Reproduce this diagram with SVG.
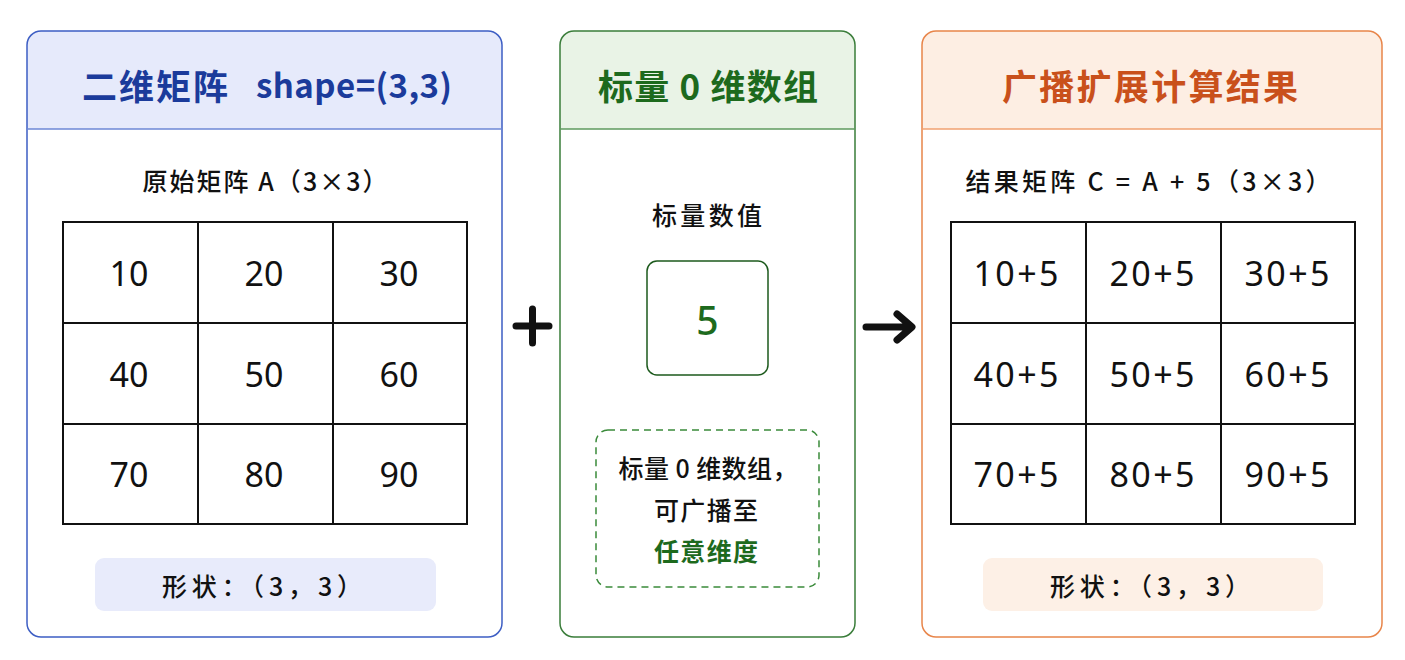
<svg xmlns="http://www.w3.org/2000/svg" width="1405" height="660" viewBox="0 0 1405 660">
<style>
text{font-family:"Noto Sans CJK SC","Noto Sans",sans-serif;text-anchor:middle;dominant-baseline:central}
.title{font-size:35px;font-weight:700}
.sub{font-size:25px;fill:#111;font-weight:500}
.num{font-size:34px;fill:#111;font-weight:400;font-family:"Noto Sans","Noto Sans CJK SC",sans-serif}
.cell{fill:#fff;stroke:#111;stroke-width:2}
.op{fill:none;stroke:#111;stroke-width:7;stroke-linecap:round;stroke-linejoin:round}
</style>
<rect width="1405" height="660" fill="#fff"/>
<g id="matrixA">
<path d="M41,31 H488 A14,14 0 0 1 502,45 V129 H27 V45 A14,14 0 0 1 41,31 Z" fill="#e6eafb"/>
<rect x="27" y="31" width="475" height="606" rx="14" fill="none" stroke="#3d5ec4" stroke-width="1.5"/>
<line x1="27" y1="129" x2="502" y2="129" stroke="#6d87d6" stroke-width="1.5"/>
<text class="title" x="155" y="84" fill="#1b3b9b" textLength="146" lengthAdjust="spacing">二维矩阵</text>
<text class="title" x="354" y="84" fill="#1b3b9b" style="font-size:33px" textLength="196" lengthAdjust="spacing">shape=(3,3)</text>
<text class="sub" x="265" y="180" textLength="245" lengthAdjust="spacing">原始矩阵 A（3×3）</text>
<rect class="cell" x="63" y="222" width="135" height="101"/>
<rect class="cell" x="198" y="222" width="135" height="101"/>
<rect class="cell" x="333" y="222" width="134" height="101"/>
<rect class="cell" x="63" y="323" width="135" height="101"/>
<rect class="cell" x="198" y="323" width="135" height="101"/>
<rect class="cell" x="333" y="323" width="134" height="101"/>
<rect class="cell" x="63" y="424" width="135" height="100"/>
<rect class="cell" x="198" y="424" width="135" height="100"/>
<rect class="cell" x="333" y="424" width="134" height="100"/>
<text class="num" x="129" y="273">10</text>
<text class="num" x="264" y="273">20</text>
<text class="num" x="399" y="273">30</text>
<text class="num" x="129" y="374">40</text>
<text class="num" x="264" y="374">50</text>
<text class="num" x="399" y="374">60</text>
<text class="num" x="129" y="474">70</text>
<text class="num" x="264" y="474">80</text>
<text class="num" x="399" y="474">90</text>
<rect x="95" y="558" width="341" height="53" rx="9" fill="#e8ebfb"/>
<text class="sub" x="262" y="585" textLength="200" lengthAdjust="spacing">形状：（3，3）</text>
</g>
<g id="scalar">
<path d="M574,31 H841 A14,14 0 0 1 855,45 V129 H560 V45 A14,14 0 0 1 574,31 Z" fill="#e9f3e6"/>
<rect x="560" y="31" width="295" height="606" rx="14" fill="none" stroke="#3a7d3a" stroke-width="1.5"/>
<line x1="560" y1="129" x2="855" y2="129" stroke="#5e9a5e" stroke-width="1.5"/>
<text class="title" x="708" y="84" fill="#1d6a1d" textLength="220" lengthAdjust="spacing">标量 0 维数组</text>
<text class="sub" x="707" y="214" textLength="110" lengthAdjust="spacing">标量数值</text>
<rect x="647" y="261" width="121" height="114" rx="10" fill="#fff" stroke="#1d5a1d" stroke-width="1.5"/>
<text x="707.5" y="319" fill="#1d6a1d" style="font-size:39px;font-weight:500;font-family:'Noto Sans',sans-serif">5</text>
<rect x="596" y="430" width="223" height="157" rx="12" fill="none" stroke="#3a8a3a" stroke-width="1.5" stroke-dasharray="7,5"/>
<text class="sub" x="708" y="467" textLength="179" lengthAdjust="spacing">标量 0 维数组，</text>
<text class="sub" x="706" y="509" textLength="104" lengthAdjust="spacing">可广播至</text>
<text class="sub" x="706" y="550" style="fill:#1d6a1d;font-weight:700" textLength="104" lengthAdjust="spacing">任意维度</text>
</g>
<g id="result">
<path d="M936,31 H1368 A14,14 0 0 1 1382,45 V129 H922 V45 A14,14 0 0 1 936,31 Z" fill="#fdeee3"/>
<rect x="922" y="31" width="460" height="606" rx="14" fill="none" stroke="#e8854a" stroke-width="1.5"/>
<line x1="922" y1="129" x2="1382" y2="129" stroke="#f0a070" stroke-width="1.5"/>
<text class="title" x="1150" y="84" fill="#c9501b" textLength="296" lengthAdjust="spacing">广播扩展计算结果</text>
<text class="sub" x="1148" y="180" textLength="365" lengthAdjust="spacing">结果矩阵 C = A + 5（3×3）</text>
<rect class="cell" x="951" y="222" width="135" height="101"/>
<rect class="cell" x="1086" y="222" width="135" height="101"/>
<rect class="cell" x="1221" y="222" width="134" height="101"/>
<rect class="cell" x="951" y="323" width="135" height="101"/>
<rect class="cell" x="1086" y="323" width="135" height="101"/>
<rect class="cell" x="1221" y="323" width="134" height="101"/>
<rect class="cell" x="951" y="424" width="135" height="100"/>
<rect class="cell" x="1086" y="424" width="135" height="100"/>
<rect class="cell" x="1221" y="424" width="134" height="100"/>
<text class="num" x="1016" y="273" textLength="85" lengthAdjust="spacing">10+5</text>
<text class="num" x="1152" y="273" textLength="85" lengthAdjust="spacing">20+5</text>
<text class="num" x="1287" y="273" textLength="85" lengthAdjust="spacing">30+5</text>
<text class="num" x="1016" y="374" textLength="85" lengthAdjust="spacing">40+5</text>
<text class="num" x="1152" y="374" textLength="85" lengthAdjust="spacing">50+5</text>
<text class="num" x="1287" y="374" textLength="85" lengthAdjust="spacing">60+5</text>
<text class="num" x="1016" y="474" textLength="85" lengthAdjust="spacing">70+5</text>
<text class="num" x="1152" y="474" textLength="85" lengthAdjust="spacing">80+5</text>
<text class="num" x="1287" y="474" textLength="85" lengthAdjust="spacing">90+5</text>
<rect x="983" y="558" width="340" height="53" rx="9" fill="#fdf0e6"/>
<text class="sub" x="1150" y="585" textLength="200" lengthAdjust="spacing">形状：（3，3）</text>
</g>
<g id="connectors">
<path class="op" d="M516,326 H549 M532.5,309 V343"/>
<path class="op" d="M866,327 H911 M897,314 L912,327 L897,340"/>
</g>
</svg>
